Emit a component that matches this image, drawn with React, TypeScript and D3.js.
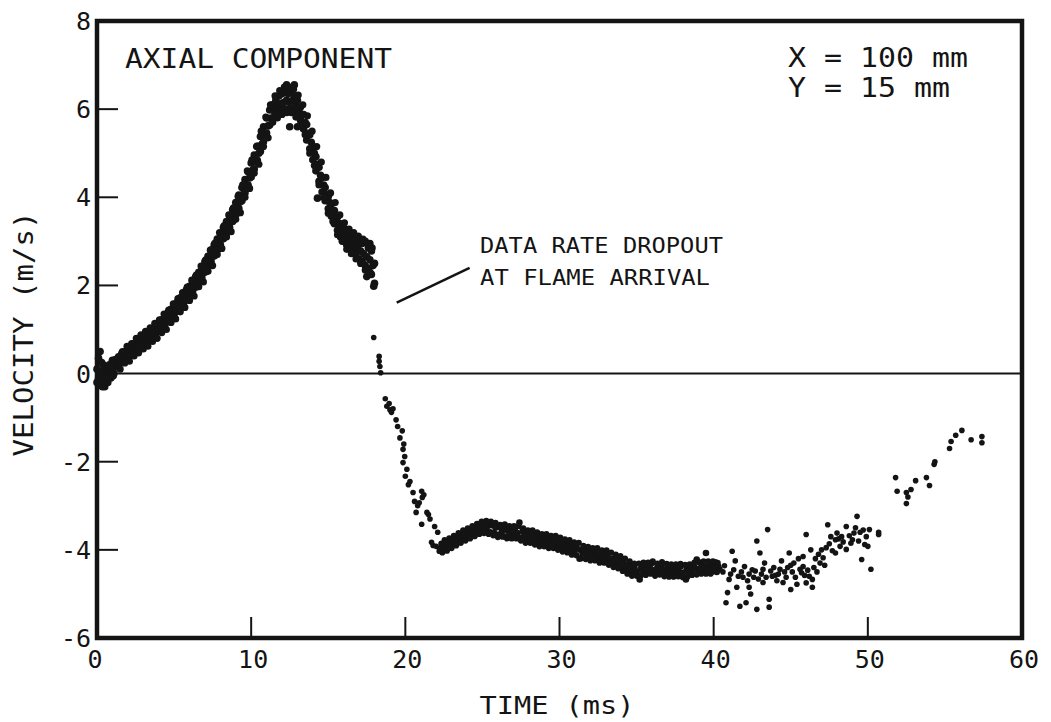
import React from "react";
import * as d3 from "d3";

const W = 1051;
const H = 722;

const xTicks = [0, 10, 20, 30, 40, 50, 60];
const yTicks = [-6, -4, -2, 0, 2, 4, 6, 8];

// Accelerating axial flow ahead of the flame (0 - 18 ms), dense band
const approachFlow: [number, number][] = [
  [0.0,-0.2],[0.0,0.1],[0.1,0.35],[0.2,0.5],[0.2,-0.25],[0.3,0.05],[0.4,-0.15],[0.4,0.2],[0.5,-0.3],[0.6,0.0],[0.6,0.15],[0.7,-0.2],[0.8,0.05],[0.8,0.2],[0.9,-0.1],[1.0,0.1],[1.0,0.3],[1.1,0.0],[1.2,0.15],[1.2,0.32],[1.3,0.22],
  [0.1,-0.1],[0.3,0.25],[0.5,-0.05],[0.7,0.1],[0.9,0.15],[0.15,0.05],[0.35,-0.3],[0.65,-0.1],[1.05,-0.05],
  [1.4,0.2],[1.4,0.38],[1.5,0.28],[1.6,0.25],[1.6,0.45],[1.7,0.35],[1.8,0.33],[1.8,0.5],[1.9,0.42],
  [2.0,0.38],[2.0,0.55],[2.1,0.47],[2.2,0.42],[2.2,0.6],[2.3,0.52],[2.4,0.5],[2.4,0.68],[2.5,0.57],[2.6,0.55],[2.6,0.72],[2.7,0.64],[2.8,0.6],[2.8,0.8],[2.9,0.7],
  [3.0,0.66],[3.0,0.84],[3.1,0.76],[3.2,0.72],[3.2,0.9],[3.3,0.8],[3.4,0.78],[3.4,0.96],[3.5,0.87],[3.6,0.84],[3.6,1.02],[3.7,0.93],[3.8,0.9],[3.8,1.1],[3.9,1.0],
  [4.0,0.96],[4.0,1.15],[4.1,1.06],[4.2,1.04],[4.2,1.22],[4.3,1.13],[4.4,1.1],[4.4,1.3],[4.5,1.2],[4.6,1.18],[4.6,1.38],[4.7,1.28],[4.8,1.26],[4.8,1.46],[4.9,1.36],
  [5.0,1.34],[5.0,1.54],[5.1,1.44],[5.2,1.42],[5.2,1.62],[5.3,1.52],[5.4,1.5],[5.4,1.72],[5.5,1.6],[5.6,1.58],[5.6,1.8],[5.7,1.69],[5.8,1.67],[5.8,1.9],[5.9,1.78],
  [6.0,1.76],[6.0,1.98],[6.1,1.87],[6.2,1.86],[6.2,2.08],[6.3,1.97],[6.4,1.96],[6.4,2.2],[6.5,2.08],[6.6,2.07],[6.6,2.3],[6.7,2.19],[6.8,2.18],[6.8,2.42],[6.9,2.3],
  [7.0,2.3],[7.0,2.54],[7.1,2.42],[7.2,2.42],[7.2,2.66],[7.3,2.54],[7.4,2.54],[7.4,2.8],[7.5,2.67],[7.6,2.67],[7.6,2.92],[7.7,2.8],[7.8,2.8],[7.8,3.05],[7.9,2.93],
  [8.0,2.93],[8.0,3.18],[8.1,3.06],[8.2,3.06],[8.2,3.32],[8.3,3.19],[8.4,3.19],[8.4,3.45],[8.5,3.32],[8.6,3.32],[8.6,3.58],[8.7,3.45],[8.8,3.45],[8.8,3.72],[8.9,3.58],
  [9.0,3.6],[9.0,3.88],[9.1,3.74],[9.2,3.75],[9.2,4.05],[9.3,3.9],[9.4,3.92],[9.4,4.22],[9.5,4.07],[9.6,4.1],[9.6,4.4],[9.7,4.26],[9.8,4.28],[9.8,4.58],[9.9,4.44],
  [10.0,4.46],[10.0,4.78],[10.1,4.62],[10.2,4.64],[10.2,4.96],[10.3,4.8],[10.4,4.84],[10.4,5.16],[10.5,5.0],[10.6,5.04],[10.6,5.38],[10.7,5.2],[10.8,5.26],[10.8,5.6],[10.9,5.42],
  [11.0,5.46],[11.0,5.8],[11.1,5.62],[11.2,5.64],[11.2,5.98],[11.3,5.8],[11.4,5.8],[11.4,6.1],[11.5,5.95],[11.6,5.9],[11.6,6.2],[11.7,6.05],[11.8,5.95],[11.8,6.3],[11.9,6.12],
  [12.0,5.98],[12.0,6.35],[12.1,6.15],[12.2,6.0],[12.2,6.45],[12.3,6.2],[12.3,6.55],[12.4,6.0],[12.4,6.35],[12.5,6.15],[12.6,6.0],[12.6,6.4],[12.7,6.2],[12.8,5.95],[12.8,6.3],[12.9,6.1],[12.5,5.6],[12.8,6.55],
  [13.0,5.9],[13.0,6.2],[13.1,6.0],[13.2,5.75],[13.2,6.05],[13.3,5.88],[13.4,5.55],[13.4,5.88],[13.5,5.7],[13.0,5.6],[13.6,5.3],[13.6,5.65],[13.7,5.45],[13.8,5.1],[13.8,5.42],[13.9,5.25],
  [14.0,4.85],[14.0,5.15],[14.1,5.0],[14.2,4.6],[14.2,4.92],[14.3,4.75],[14.4,4.36],[14.4,4.68],[14.5,4.5],[14.6,4.12],[14.6,4.45],[14.7,4.28],[14.8,3.92],[14.8,4.22],[14.9,4.06],[14.3,3.98],
  [15.0,3.74],[15.0,4.02],[15.1,3.88],[15.2,3.57],[15.2,3.85],[15.3,3.7],[15.4,3.4],[15.4,3.7],[15.5,3.55],[15.6,3.25],[15.6,3.55],[15.7,3.4],[15.8,3.1],[15.8,3.4],[15.9,3.25],
  [16.0,3.0],[16.0,3.3],[16.1,3.12],[16.2,2.92],[16.2,3.22],[16.3,3.06],[16.4,2.85],[16.4,3.15],[16.5,2.98],[16.6,2.78],[16.6,3.1],[16.7,2.92],[16.8,2.7],[16.8,3.05],[16.9,2.86],
  [17.0,2.6],[17.0,3.0],[17.1,2.78],[17.2,2.55],[17.2,2.95],[17.3,2.72],[17.4,2.45],[17.4,3.0],[17.5,2.65],[17.6,2.38],[17.6,2.85],[17.7,2.58],[17.8,2.25],[17.8,2.78],[17.9,2.45],[18.0,2.05],[18.0,2.5],[17.95,1.98],[17.7,2.95],[17.5,2.2]
];

// Outer edges of the approach band, read from its upper and lower margins
const approachEdges: [number, number][] = [
  [1.5,0.1],[1.65,0.5],[1.8,0.24],[1.95,0.62],[2.1,0.28],[2.25,0.68],[2.4,0.4],[2.55,0.8],[2.7,0.47],[2.85,0.88],[3.0,0.56],[3.15,0.96],[3.3,0.62],[3.45,1.04],[3.6,0.73],[3.75,1.14],[3.9,0.8],[4.05,1.22],[4.2,0.93],[4.35,1.35],[4.5,1.0],[4.65,1.44],[4.8,1.16],[4.95,1.58],[5.1,1.24],[5.25,1.7],[5.4,1.4],[5.55,1.84],[5.7,1.5],[5.85,1.96],[6.0,1.66],[6.15,2.12],[6.3,1.76],[6.45,2.24],[6.6,1.97],[6.75,2.44],[6.9,2.08],[7.05,2.58],[7.2,2.32],[7.35,2.8],[7.5,2.45],[7.65,2.96],[7.8,2.7],[7.95,3.2],[8.1,2.84],[8.25,3.36],[8.4,3.1],[8.55,3.6],[8.7,3.22],[8.85,3.76],[9.0,3.5],[9.15,4.02],[9.3,3.65],[9.45,4.28],[9.6,4.0],[9.75,4.6],[9.9,4.2],[10.05,4.85],[10.2,4.55],[10.35,5.15],[10.5,4.75],[10.65,5.5],[10.8,5.15],[10.95,5.82],[11.1,5.35],[11.25,6.1],[11.4,5.7],[11.55,6.3],[11.7,5.8],[11.85,6.42],[12.0,5.88],[12.15,6.5],[12.3,5.92],[12.45,6.5],[12.6,5.92],[12.75,6.45],[12.9,5.82],[13.05,6.32],[13.2,5.62],[13.35,6.1],[13.5,5.42],[13.65,5.85],[13.8,5.0],[13.95,5.5],[14.1,4.72],[14.25,5.15],[14.4,4.28],[14.55,4.8],[14.7,4.0],[14.85,4.45],[15.0,3.64],[15.15,4.1],[15.3,3.45],[15.45,3.88],[15.6,3.15],[15.75,3.6],[15.9,3.0],[16.05,3.42],[16.2,2.82],[16.35,3.28],[16.5,2.72],[16.65,3.2],[16.8,2.6],[16.95,3.12],[17.1,2.5],[17.25,3.05],[17.4,2.35],[17.55,2.95],[17.7,2.3],[17.85,2.85]
];

// Sparse samples during the data-rate dropout
const dropoutFlow: [number, number][] = [
  [17.95,0.82],[18.3,0.39],[18.3,0.28],[18.35,0.16],[18.4,0.02]
];

// Flow reversal after flame arrival (18.5 - 22 ms)
const reversalFlow: [number, number][] = [
  [18.7,-0.57],[18.8,-0.74],[18.95,-0.68],[19.0,-0.82],[19.1,-0.88],[19.2,-0.8],[19.4,-1.05],[19.5,-1.2],[19.65,-1.46],[19.8,-1.3],[19.85,-1.72],[19.9,-1.6],[19.96,-1.88],[19.85,-2.02],[20.1,-2.17],[20.0,-2.33],[20.2,-2.52],[20.3,-2.45],[20.5,-2.7],[20.6,-2.9],[20.7,-3.15],[20.8,-3.0],[21.06,-2.67],[21.1,-2.81],[20.9,-2.93],[21.2,-2.75],[21.4,-3.15],[21.06,-3.42],[21.6,-3.3],[21.5,-3.2],[21.9,-3.47],[22.1,-3.6],[21.7,-3.83],[21.8,-3.9],[22.0,-3.92],[22.2,-4.03]
];

// Burnt-gas backflow band (22 - 40 ms)
const backflowBand: [number, number][] = [
  [22.25,-3.98],[22.35,-3.86],[22.5,-3.95],[22.6,-3.85],[22.75,-3.9],[22.85,-3.8],[23.0,-3.86],[23.1,-3.76],[23.25,-3.82],[23.35,-3.72],[23.5,-3.78],[23.6,-3.68],[23.75,-3.74],[23.85,-3.64],[24.0,-3.7],[24.1,-3.6],[24.25,-3.64],[24.35,-3.55],[24.5,-3.6],[24.6,-3.5],[24.75,-3.55],[24.85,-3.45],[25.0,-3.52],[25.1,-3.42],[25.25,-3.56],[25.35,-3.46],[25.5,-3.6],[25.6,-3.44],[25.75,-3.62],[25.85,-3.5],[26.0,-3.66],[26.1,-3.48],[26.25,-3.6],[26.35,-3.5],[26.5,-3.7],[26.6,-3.55],[26.75,-3.64],[26.85,-3.52],[27.0,-3.68],[27.1,-3.56],[27.25,-3.62],[27.4,-3.38],[27.5,-3.72],[27.6,-3.58],[27.75,-3.66],[27.9,-3.76],[28.0,-3.64],[28.1,-3.72],[28.25,-3.8],[28.35,-3.68],[28.5,-3.78],[28.6,-3.7],[28.75,-3.84],[28.85,-3.74],[29.0,-3.8],[29.1,-3.72],[29.25,-3.86],[29.35,-3.76],[29.5,-3.84],[29.6,-3.78],[29.75,-3.92],[29.85,-3.8],[30.0,-3.9],[30.1,-3.82],[30.25,-3.96],[30.35,-3.86],[30.5,-3.94],[30.6,-3.88],[30.75,-4.02],[30.85,-3.92],[31.0,-4.0],[31.1,-3.94],[31.3,-4.2],[31.35,-4.0],[31.5,-4.08],[31.6,-3.98],[31.75,-4.1],[31.85,-4.02],[32.0,-4.14],[32.1,-4.04],[32.25,-4.12],[32.35,-4.06],[32.5,-4.2],[32.6,-4.1],[32.75,-4.18],[32.85,-4.1],[33.0,-4.24],[33.1,-4.14],[33.25,-4.22],[33.4,-4.2],[33.5,-4.3],[33.6,-4.2],[33.75,-4.32],[33.85,-4.24],[34.0,-4.4],[34.1,-4.28],[34.25,-4.44],[34.35,-4.34],[34.5,-4.46],[34.6,-4.36],[34.75,-4.52],[34.85,-4.4],[35.0,-4.5],[35.2,-4.67],[35.25,-4.44],[35.35,-4.38],[35.5,-4.48],[35.6,-4.36],[35.75,-4.5],[35.85,-4.4],[36.0,-4.3],[36.1,-4.46],[36.25,-4.52],[36.35,-4.4],[36.5,-4.46],[36.6,-4.36],[36.75,-4.5],[36.9,-4.44],[37.0,-4.56],[37.1,-4.42],[37.25,-4.5],[37.35,-4.4],[37.5,-4.55],[37.6,-4.46],[37.75,-4.5],[37.85,-4.38],[38.0,-4.52],[38.2,-4.67],[38.25,-4.44],[38.4,-4.5],[38.5,-4.38],[38.6,-4.46],[38.75,-4.4],[38.9,-4.22],[39.0,-4.5],[39.1,-4.42],[39.25,-4.36],[39.4,-4.46],[39.5,-4.07],[39.6,-4.38],[39.75,-4.42],[39.9,-4.37],[40.0,-4.34],[40.05,-4.46],[40.15,-4.4],[40.25,-4.3],[40.35,-4.44],
  [39.7,-4.3],[39.85,-4.5],[40.1,-4.28],[40.2,-4.5],[40.3,-4.38],[39.95,-4.42]
];

// Outer edges of the backflow band
const backflowEdges: [number, number][] = [
  [22.4,-4.06],[22.55,-3.78],[22.7,-4.02],[22.85,-3.74],[23.0,-3.96],[23.15,-3.68],[23.3,-3.9],[23.45,-3.62],[23.6,-3.84],[23.75,-3.56],[23.9,-3.79],[24.05,-3.51],[24.2,-3.74],[24.35,-3.46],[24.5,-3.69],[24.65,-3.41],[24.8,-3.64],[24.95,-3.36],[25.1,-3.62],[25.25,-3.34],[25.4,-3.64],[25.55,-3.36],[25.7,-3.67],[25.85,-3.39],[26.0,-3.71],[26.15,-3.43],[26.3,-3.7],[26.45,-3.42],[26.6,-3.74],[26.75,-3.46],[26.9,-3.74],[27.05,-3.46],[27.2,-3.74],[27.35,-3.46],[27.5,-3.79],[27.65,-3.51],[27.8,-3.84],[27.95,-3.56],[28.1,-3.84],[28.25,-3.56],[28.4,-3.88],[28.55,-3.6],[28.7,-3.92],[28.85,-3.64],[29.0,-3.92],[29.15,-3.64],[29.3,-3.96],[29.45,-3.68],[29.6,-3.96],[29.75,-3.68],[29.9,-4.0],[30.05,-3.72],[30.2,-4.04],[30.35,-3.76],[30.5,-4.06],[30.65,-3.78],[30.8,-4.11],[30.95,-3.83],[31.1,-4.12],[31.25,-3.84],[31.4,-4.19],[31.55,-3.91],[31.7,-4.21],[31.85,-3.93],[32.0,-4.24],[32.15,-3.96],[32.3,-4.24],[32.45,-3.96],[32.6,-4.29],[32.75,-4.01],[32.9,-4.29],[33.05,-4.01],[33.2,-4.34],[33.35,-4.06],[33.5,-4.39],[33.65,-4.11],[33.8,-4.42],[33.95,-4.14],[34.1,-4.48],[34.25,-4.2],[34.4,-4.54],[34.55,-4.26],[34.7,-4.59],[34.85,-4.31],[35.0,-4.59],[35.15,-4.31],[35.3,-4.57],[35.45,-4.29],[35.6,-4.57],[35.75,-4.29],[35.9,-4.54],[36.05,-4.26],[36.2,-4.59],[36.35,-4.31],[36.5,-4.56],[36.65,-4.28],[36.8,-4.6],[36.95,-4.32],[37.1,-4.61],[37.25,-4.33],[37.4,-4.61],[37.55,-4.33],[37.7,-4.6],[37.85,-4.32],[38.0,-4.62],[38.15,-4.34],[38.3,-4.61],[38.45,-4.33],[38.6,-4.57],[38.75,-4.29],[38.9,-4.56],[39.05,-4.28],[39.2,-4.54],[39.35,-4.26],[39.5,-4.54],[39.65,-4.26],[39.8,-4.54],[39.95,-4.26]
];

// Scattered late samples (40 - 51 ms)
const lateScatter: [number, number][] = [
  [40.4,-4.44],[40.8,-5.2],[40.9,-4.97],[41.0,-4.67],[41.2,-4.03],[41.5,-4.85],[41.7,-5.28],[42.1,-5.2],[42.4,-5.0],[42.8,-5.35],[42.8,-3.8],[43.0,-4.07],[43.2,-4.44],[43.2,-4.74],[43.5,-3.54],[43.6,-5.12],[43.6,-5.3],[43.8,-4.6],[44.3,-4.44],[44.5,-4.74],[44.9,-4.07],[45.2,-4.3],[45.4,-4.78],[45.6,-4.44],[46.0,-3.65],[46.3,-4.0],[46.4,-4.67],[46.4,-4.85],[46.9,-4.3],[47.1,-4.18],[47.4,-3.43],[47.9,-3.77],[47.9,-4.07],[48.2,-3.92],[48.6,-3.47],[48.6,-3.99],[49.0,-3.77],[49.3,-3.24],[49.5,-3.6],[49.6,-4.22],[50.0,-3.92],[50.1,-3.54],[50.2,-4.44],[50.7,-3.65],[50.7,-3.6],
  [40.6,-4.5],[40.7,-4.36],[41.1,-4.55],[41.3,-4.45],[41.6,-4.6],[41.8,-4.5],[41.9,-4.62],[42.0,-4.38],[42.2,-4.7],[42.3,-4.55],[42.5,-4.45],[42.6,-4.62],[42.7,-4.48],[42.9,-4.66],[43.1,-4.55],[43.4,-4.62],[43.7,-4.48],[43.9,-4.4],[44.0,-4.58],[44.1,-4.7],[44.2,-4.55],[44.6,-4.5],[44.7,-4.62],[44.8,-4.4],[45.0,-4.35],[45.1,-4.5],[45.3,-4.62],[45.5,-4.2],[45.7,-4.52],[45.8,-4.38],[45.9,-4.58],[46.1,-4.46],[46.2,-4.6],[46.5,-4.4],[46.6,-4.2],[46.7,-4.5],[46.8,-4.1],[47.0,-4.0],[47.3,-3.95],[47.5,-3.86],[47.6,-3.7],[47.7,-4.02],[48.0,-3.62],[48.1,-3.75],[48.3,-3.7],[48.4,-3.82],[48.8,-3.68],[48.9,-3.85],[49.1,-3.62],[49.2,-3.5],[49.4,-3.8],[49.7,-3.55],[49.8,-3.88],[49.9,-3.7],
  [41.4,-4.25],[42.3,-4.85],[43.3,-4.3],[44.4,-4.25],[45.0,-4.9],[45.8,-4.15],[46.0,-4.75],[47.2,-4.35]
];

// Final recovery samples (51.5 - 58 ms)
const finalSamples: [number, number][] = [
  [51.8,-2.36],[51.9,-2.67],[52.5,-2.7],[52.5,-2.95],[52.6,-2.8],[52.8,-2.63],[53.1,-2.43],[53.8,-2.36],[54.0,-2.54],[54.3,-2.06],[54.35,-2.0],[55.3,-1.7],[55.4,-1.54],[55.7,-1.4],[56.1,-1.29],[56.7,-1.5],[57.4,-1.43],[57.4,-1.57]
];

// Each group with its plotted dot radius (denser bands overprint into solid ink)
const pointGroups: { pts: [number, number][]; r: number }[] = [
  { pts: approachFlow, r: 3.8 },
  { pts: approachEdges, r: 3.6 },
  { pts: dropoutFlow, r: 2.8 },
  { pts: reversalFlow, r: 2.8 },
  { pts: backflowBand, r: 3.3 },
  { pts: backflowEdges, r: 3.1 },
  { pts: lateScatter, r: 2.8 },
  { pts: finalSamples, r: 2.8 },
];

const annotationLine: [number, number][] = [[19.44, 1.61], [24.17, 2.4]];

const INK = "#141414";
const FONT = "'DejaVu Sans Mono', monospace";

export default function App() {
  const x = d3.scaleLinear().domain([0, 60]).range([97, 1022]);
  const y = d3.scaleLinear().domain([-6, 8]).range([638, 21]);
  const [x0, x1] = x.range();
  const [yb, yt] = y.range();

  return (
    <svg
      width={W}
      height={H}
      style={{ position: "absolute", left: 0, top: 0, background: "#fff" }}
      fontFamily={FONT}
    >
      <rect x={0} y={0} width={W} height={H} fill="#fff" />
      {/* zero line */}
      <line x1={x0} x2={x1} y1={y(0)} y2={y(0)} stroke={INK} strokeWidth={2} />
      {/* ticks */}
      {yTicks.filter((v) => v !== 0 && v !== -6 && v !== 8).map((v) => (
        <line key={"yt" + v} x1={x0} x2={x0 + 21} y1={y(v)} y2={y(v)} stroke={INK} strokeWidth={2} />
      ))}
      {xTicks.filter((v) => v !== 0 && v !== 60).map((v) => (
        <line key={"xt" + v} x1={x(v)} x2={x(v)} y1={yb} y2={yb - 21} stroke={INK} strokeWidth={2} />
      ))}
      {/* frame */}
      <rect x={x0} y={yt} width={x1 - x0} height={yb - yt} fill="none" stroke={INK} strokeWidth={4.5} />
      {/* tick labels */}
      {yTicks.map((v) => (
        <text key={"yl" + v} x={91} y={y(v)} dy="0.36em" textAnchor="end" fontSize={25} fill={INK}>
          {String(v)}
        </text>
      ))}
      {xTicks.map((v) => (
        <text key={"xl" + v} x={x(v) + (v === 0 ? -2 : 2)} y={668} textAnchor="middle" fontSize={25} fill={INK}>
          {String(v)}
        </text>
      ))}
      {/* points */}
      {pointGroups.map((g, gi) =>
        g.pts.map(([t, v], i) => (
          <circle key={gi + "-" + i} cx={x(t)} cy={y(v)} r={g.r} fill={INK} />
        ))
      )}
      {/* annotation */}
      <line
        x1={x(annotationLine[0][0])}
        y1={y(annotationLine[0][1])}
        x2={x(annotationLine[1][0])}
        y2={y(annotationLine[1][1])}
        stroke={INK}
        strokeWidth={2.5}
      />
      <text x={480} y={253} fontSize={22} textLength={243} lengthAdjust="spacingAndGlyphs" fill={INK}>DATA RATE DROPOUT</text>
      <text x={480} y={285} fontSize={22} textLength={230} lengthAdjust="spacingAndGlyphs" fill={INK}>AT FLAME ARRIVAL</text>
      <text x={125} y={68} fontSize={26} textLength={267} lengthAdjust="spacingAndGlyphs" fill={INK}>AXIAL COMPONENT</text>
      <text x={788} y={67} fontSize={26} textLength={180} lengthAdjust="spacingAndGlyphs" fill={INK}>X = 100 mm</text>
      <text x={788} y={97} fontSize={26} textLength={162} lengthAdjust="spacingAndGlyphs" fill={INK}>Y = 15 mm</text>
      {/* axis titles */}
      <text x={557} y={714} fontSize={25} textAnchor="middle" textLength={155} lengthAdjust="spacingAndGlyphs" fill={INK}>TIME (ms)</text>
      <text
        transform={`translate(33, 334) rotate(-90)`}
        fontSize={26}
        textAnchor="middle"
        textLength={245}
        lengthAdjust="spacingAndGlyphs"
        fill={INK}
      >
        VELOCITY (m/s)
      </text>
    </svg>
  );
}
